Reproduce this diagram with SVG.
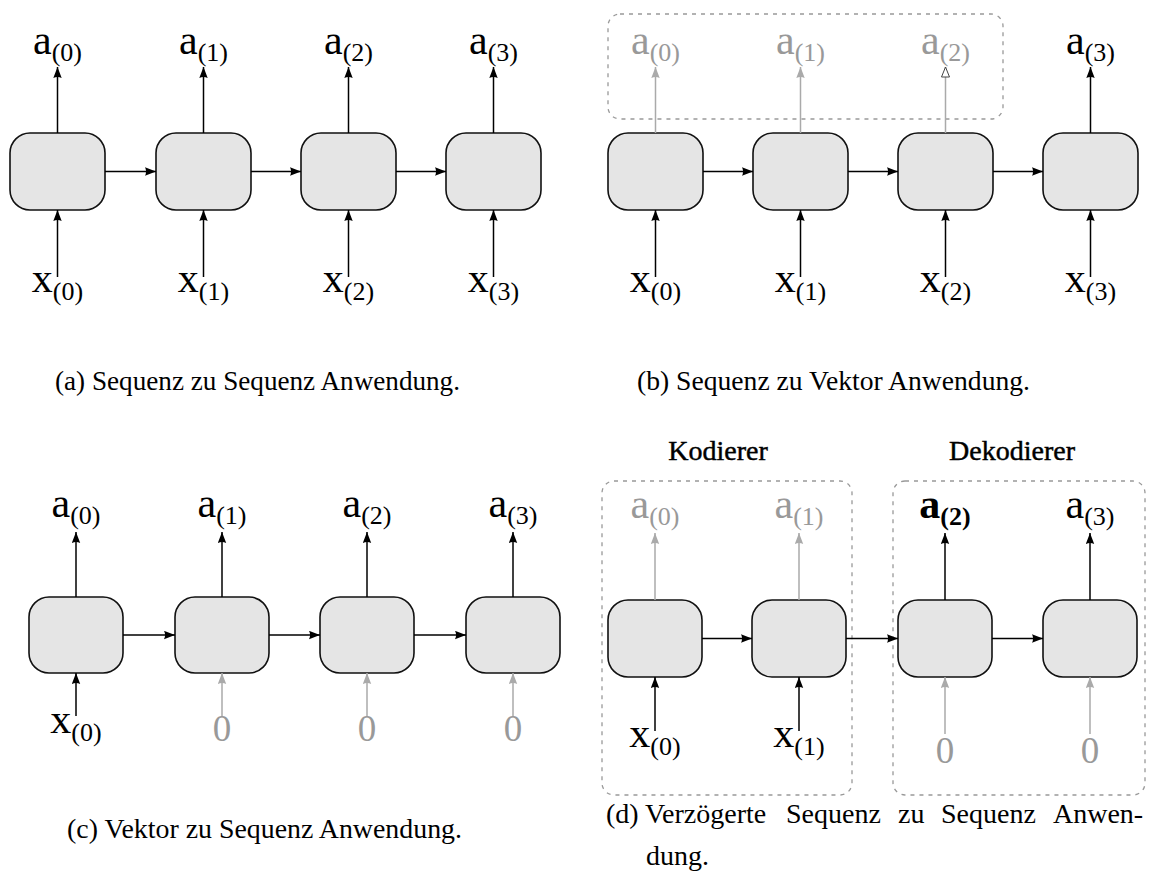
<svg xmlns="http://www.w3.org/2000/svg" width="1150" height="882" viewBox="0 0 1150 882">
  <style>
    .cell { fill: #e5e5e5; stroke: #111; stroke-width: 1.6; }
    .wire { stroke: #000; stroke-width: 1.5; fill: none; marker-end: url(#ah); }
    .wire-g { stroke: #aaa; stroke-width: 1.5; fill: none; marker-end: url(#ahg); }
    .wire-o { stroke: #aaa; stroke-width: 1.5; fill: none; marker-end: url(#aho); }
    .group { fill: none; stroke: #999; stroke-width: 1.3; stroke-dasharray: 4 5; }
    .lbl { font-family: "Liberation Serif", "DejaVu Serif", serif; font-size: 42px; fill: #000; text-anchor: middle; }
    .lbl.g { fill: #999; }
    .sub { font-size: 26px; }
    .zero { font-family: "Liberation Serif", "DejaVu Serif", serif; font-size: 37px; fill: #999; text-anchor: middle; }
    .title { font-family: "Liberation Serif", "DejaVu Serif", serif; font-size: 28px; fill: #000; stroke: #000; stroke-width: 0.45; text-anchor: middle; }
    .cap { font-family: "Liberation Serif", "DejaVu Serif", serif; font-size: 28px; fill: #000; }
  </style>
  <defs>
    <marker id="ah" markerUnits="userSpaceOnUse" markerWidth="13" markerHeight="10" refX="11" refY="4.5" orient="auto">
      <path d="M0,0.3 L11,4.5 L0,8.7 Q2.2,4.5 0,0.3 Z" fill="#000"/>
    </marker>
    <marker id="ahg" markerUnits="userSpaceOnUse" markerWidth="13" markerHeight="10" refX="11" refY="4.5" orient="auto">
      <path d="M0,0.3 L11,4.5 L0,8.7 Q2.2,4.5 0,0.3 Z" fill="#aaa"/>
    </marker>
    <marker id="aho" markerUnits="userSpaceOnUse" markerWidth="13" markerHeight="11" refX="10.5" refY="5" orient="auto">
      <path d="M0.5,1 L10.5,5 L0.5,9 Z" fill="#fff" stroke="#444" stroke-width="1"/>
    </marker>
  </defs>

  <!-- (a) sequence to sequence -->
  <g id="a-cell0"><rect class="cell" x="10" y="133" width="95" height="77" rx="20"/></g>
  <g id="a-cell1"><rect class="cell" x="156" y="133" width="95" height="77" rx="20"/></g>
  <g id="a-cell2"><rect class="cell" x="301" y="133" width="95" height="77" rx="20"/></g>
  <g id="a-cell3"><rect class="cell" x="446" y="133" width="95" height="77" rx="20"/></g>
  <g id="a-out0"><text class="lbl" x="57.5" y="54">a<tspan class="sub" dy="7">(0)</tspan></text></g>
  <g id="a-out1"><text class="lbl" x="203.5" y="54">a<tspan class="sub" dy="7">(1)</tspan></text></g>
  <g id="a-out2"><text class="lbl" x="348.5" y="54">a<tspan class="sub" dy="7">(2)</tspan></text></g>
  <g id="a-out3"><text class="lbl" x="493.5" y="54">a<tspan class="sub" dy="7">(3)</tspan></text></g>
  <g id="a-in0"><text class="lbl" x="57.5" y="292">x<tspan class="sub" dy="8">(0)</tspan></text></g>
  <g id="a-in1"><text class="lbl" x="203.5" y="292">x<tspan class="sub" dy="8">(1)</tspan></text></g>
  <g id="a-in2"><text class="lbl" x="348.5" y="292">x<tspan class="sub" dy="8">(2)</tspan></text></g>
  <g id="a-in3"><text class="lbl" x="493.5" y="292">x<tspan class="sub" dy="8">(3)</tspan></text></g>

  <!-- (b) sequence to vector -->
  <g id="b-ignored"><rect class="group" x="608" y="14" width="395" height="105" rx="12"/></g>
  <g id="b-cell0"><rect class="cell" x="608" y="133" width="95" height="77" rx="20"/></g>
  <g id="b-cell1"><rect class="cell" x="753" y="133" width="95" height="77" rx="20"/></g>
  <g id="b-cell2"><rect class="cell" x="898" y="133" width="95" height="77" rx="20"/></g>
  <g id="b-cell3"><rect class="cell" x="1043" y="133" width="95" height="77" rx="20"/></g>
  <g id="b-out0"><text class="lbl g" x="655.5" y="54">a<tspan class="sub" dy="7">(0)</tspan></text></g>
  <g id="b-out1"><text class="lbl g" x="800.5" y="54">a<tspan class="sub" dy="7">(1)</tspan></text></g>
  <g id="b-out2"><text class="lbl g" x="945.5" y="54">a<tspan class="sub" dy="7">(2)</tspan></text></g>
  <g id="b-out3"><text class="lbl" x="1090.5" y="54">a<tspan class="sub" dy="7">(3)</tspan></text></g>
  <g id="b-in0"><text class="lbl" x="655.5" y="292">x<tspan class="sub" dy="8">(0)</tspan></text></g>
  <g id="b-in1"><text class="lbl" x="800.5" y="292">x<tspan class="sub" dy="8">(1)</tspan></text></g>
  <g id="b-in2"><text class="lbl" x="945.5" y="292">x<tspan class="sub" dy="8">(2)</tspan></text></g>
  <g id="b-in3"><text class="lbl" x="1090.5" y="292">x<tspan class="sub" dy="8">(3)</tspan></text></g>

  <!-- (c) vector to sequence -->
  <g id="c-cell0"><rect class="cell" x="29" y="597" width="94" height="76" rx="20"/></g>
  <g id="c-cell1"><rect class="cell" x="175" y="597" width="94" height="76" rx="20"/></g>
  <g id="c-cell2"><rect class="cell" x="320" y="597" width="94" height="76" rx="20"/></g>
  <g id="c-cell3"><rect class="cell" x="466" y="597" width="94" height="76" rx="20"/></g>
  <g id="c-out0"><text class="lbl" x="76" y="517">a<tspan class="sub" dy="7">(0)</tspan></text></g>
  <g id="c-out1"><text class="lbl" x="222" y="517">a<tspan class="sub" dy="7">(1)</tspan></text></g>
  <g id="c-out2"><text class="lbl" x="367" y="517">a<tspan class="sub" dy="7">(2)</tspan></text></g>
  <g id="c-out3"><text class="lbl" x="513" y="517">a<tspan class="sub" dy="7">(3)</tspan></text></g>
  <g id="c-in0"><text class="lbl" x="76" y="733">x<tspan class="sub" dy="8">(0)</tspan></text></g>
  <g id="c-in1"><text class="zero" x="222" y="741">0</text></g>
  <g id="c-in2"><text class="zero" x="367" y="741">0</text></g>
  <g id="c-in3"><text class="zero" x="513" y="741">0</text></g>

  <!-- (d) delayed sequence to sequence -->
  <g id="d-encoder">
    <rect class="group" x="602" y="481" width="250" height="314" rx="12"/>
    <text class="title" x="718" y="460">Kodierer</text>
  </g>
  <g id="d-decoder">
    <rect class="group" x="893" y="481" width="252" height="314" rx="12"/>
    <text class="title" x="1012" y="460">Dekodierer</text>
  </g>
  <g id="d-cell0"><rect class="cell" x="608" y="600" width="94" height="77" rx="20"/></g>
  <g id="d-cell1"><rect class="cell" x="752" y="600" width="94" height="77" rx="20"/></g>
  <g id="d-cell2"><rect class="cell" x="898" y="600" width="94" height="77" rx="20"/></g>
  <g id="d-cell3"><rect class="cell" x="1043" y="600" width="94" height="77" rx="20"/></g>
  <g id="d-out0"><text class="lbl g" x="655" y="518">a<tspan class="sub" dy="7">(0)</tspan></text></g>
  <g id="d-out1"><text class="lbl g" x="799" y="518">a<tspan class="sub" dy="7">(1)</tspan></text></g>
  <g id="d-out2"><text class="lbl" x="945" y="518" font-weight="bold">a<tspan class="sub" dy="7">(2)</tspan></text></g>
  <g id="d-out3"><text class="lbl" x="1090" y="518">a<tspan class="sub" dy="7">(3)</tspan></text></g>
  <g id="d-in0"><text class="lbl" x="655" y="747">x<tspan class="sub" dy="8">(0)</tspan></text></g>
  <g id="d-in1"><text class="lbl" x="799" y="747">x<tspan class="sub" dy="8">(1)</tspan></text></g>
  <g id="d-in2"><text class="zero" x="945" y="763">0</text></g>
  <g id="d-in3"><text class="zero" x="1090" y="763">0</text></g>

  <!-- connectors -->
  <g id="connectors">
    <!-- (a) -->
    <line class="wire" x1="57.5" y1="133" x2="57.5" y2="67"/>
    <line class="wire" x1="203.5" y1="133" x2="203.5" y2="67"/>
    <line class="wire" x1="348.5" y1="133" x2="348.5" y2="67"/>
    <line class="wire" x1="493.5" y1="133" x2="493.5" y2="67"/>
    <line class="wire" x1="57.5" y1="277" x2="57.5" y2="210"/>
    <line class="wire" x1="203.5" y1="277" x2="203.5" y2="210"/>
    <line class="wire" x1="348.5" y1="277" x2="348.5" y2="210"/>
    <line class="wire" x1="493.5" y1="277" x2="493.5" y2="210"/>
    <line class="wire" x1="105" y1="171.5" x2="156" y2="171.5"/>
    <line class="wire" x1="251" y1="171.5" x2="301" y2="171.5"/>
    <line class="wire" x1="396" y1="171.5" x2="446" y2="171.5"/>
    <!-- (b) -->
    <line class="wire-g" x1="655.5" y1="133" x2="655.5" y2="67"/>
    <line class="wire-g" x1="800.5" y1="133" x2="800.5" y2="67"/>
    <line class="wire-o" x1="945.5" y1="133" x2="945.5" y2="67"/>
    <line class="wire" x1="1090.5" y1="133" x2="1090.5" y2="67"/>
    <line class="wire" x1="655.5" y1="277" x2="655.5" y2="210"/>
    <line class="wire" x1="800.5" y1="277" x2="800.5" y2="210"/>
    <line class="wire" x1="945.5" y1="277" x2="945.5" y2="210"/>
    <line class="wire" x1="1090.5" y1="277" x2="1090.5" y2="210"/>
    <line class="wire" x1="703" y1="171.5" x2="753" y2="171.5"/>
    <line class="wire" x1="848" y1="171.5" x2="898" y2="171.5"/>
    <line class="wire" x1="993" y1="171.5" x2="1043" y2="171.5"/>
    <!-- (c) -->
    <line class="wire" x1="76" y1="597" x2="76" y2="532"/>
    <line class="wire" x1="222" y1="597" x2="222" y2="532"/>
    <line class="wire" x1="367" y1="597" x2="367" y2="532"/>
    <line class="wire" x1="513" y1="597" x2="513" y2="532"/>
    <line class="wire" x1="76" y1="716" x2="76" y2="673"/>
    <line class="wire-g" x1="222" y1="716" x2="222" y2="673"/>
    <line class="wire-g" x1="367" y1="716" x2="367" y2="673"/>
    <line class="wire-g" x1="513" y1="716" x2="513" y2="673"/>
    <line class="wire" x1="123" y1="635" x2="175" y2="635"/>
    <line class="wire" x1="269" y1="635" x2="320" y2="635"/>
    <line class="wire" x1="414" y1="635" x2="466" y2="635"/>
    <!-- (d) -->
    <line class="wire-g" x1="655" y1="600" x2="655" y2="533"/>
    <line class="wire-g" x1="799" y1="600" x2="799" y2="533"/>
    <line class="wire" x1="945" y1="600" x2="945" y2="533"/>
    <line class="wire" x1="1090" y1="600" x2="1090" y2="533"/>
    <line class="wire" x1="655" y1="731" x2="655" y2="677"/>
    <line class="wire" x1="799" y1="731" x2="799" y2="677"/>
    <line class="wire-g" x1="945" y1="734" x2="945" y2="677"/>
    <line class="wire-g" x1="1090" y1="734" x2="1090" y2="677"/>
    <line class="wire" x1="702" y1="638.5" x2="752" y2="638.5"/>
    <line class="wire" x1="846" y1="638.5" x2="898" y2="638.5"/>
    <line class="wire" x1="992" y1="638.5" x2="1043" y2="638.5"/>
  </g>

  <!-- captions -->
  <g id="captions">
    <text class="cap" x="55" y="390" textLength="405" lengthAdjust="spacingAndGlyphs">(a) Sequenz zu Sequenz Anwendung.</text>
    <text class="cap" x="637" y="390" textLength="393" lengthAdjust="spacingAndGlyphs">(b) Sequenz zu Vektor Anwendung.</text>
    <text class="cap" x="67" y="838" textLength="395" lengthAdjust="spacingAndGlyphs">(c) Vektor zu Sequenz Anwendung.</text>
    <text class="cap" y="823"><tspan x="606">(d)</tspan><tspan x="645">Verzögerte</tspan><tspan x="786">Sequenz</tspan><tspan x="898">zu</tspan><tspan x="941">Sequenz</tspan><tspan x="1053">Anwen-</tspan></text>
    <text class="cap" x="646" y="865">dung.</text>
  </g>
</svg>
